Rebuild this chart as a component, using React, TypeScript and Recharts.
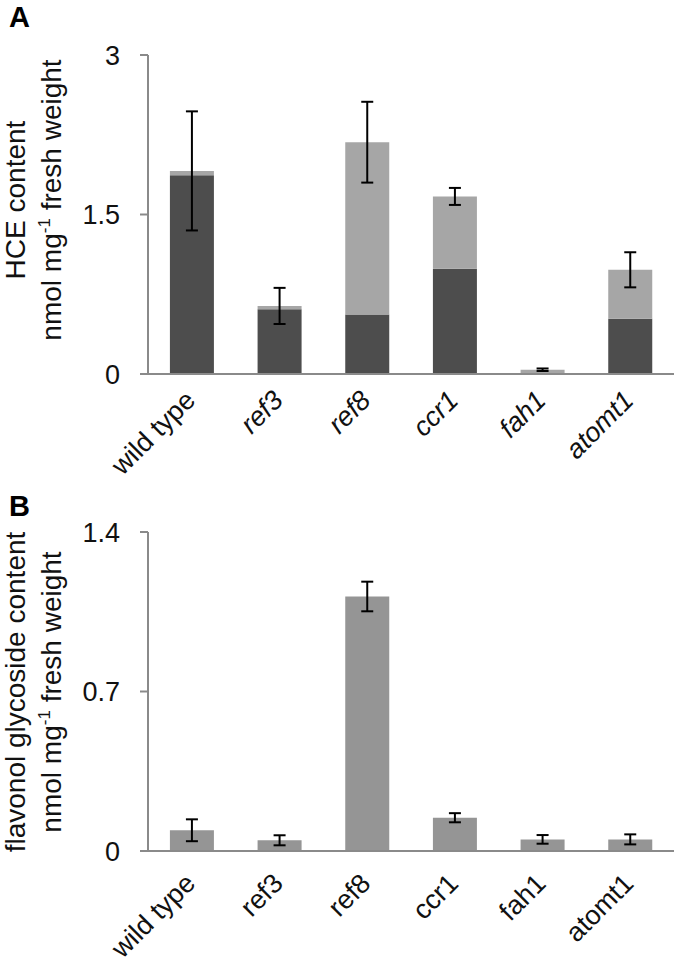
import React from 'react';
import { BarChart, Bar, XAxis, YAxis, ErrorBar, Text } from 'recharts';

const FONT = "'Liberation Sans', Arial, sans-serif";

const lines = ['wild type', 'ref3', 'ref8', 'ccr1', 'fah1', 'atomt1'];

// panel A: HCE content, dark and light portions stacked
const hceDark = [1.87, 0.61, 0.56, 0.99, 0, 0.52];
const hceLight = [0.04, 0.03, 1.62, 0.68, 0.04, 0.46];
const hceErr = [0.56, 0.17, 0.38, 0.08, 0.012, 0.165];
const hceTicks = [0, 1.5, 3];

// panel B: flavonol glycoside content
const flavonol = [0.091, 0.047, 1.117, 0.146, 0.051, 0.051];
const flavonolErr = [0.048, 0.022, 0.065, 0.02, 0.019, 0.022];
const flavonolTicks = [0, 0.7, 1.4];

const hceData = lines.map((name, i) => ({
  name,
  dark: hceDark[i],
  light: hceLight[i],
  total: hceDark[i] + hceLight[i],
  err: hceErr[i],
}));

const flavonolData = lines.map((name, i) => ({
  name,
  value: flavonol[i],
  err: flavonolErr[i],
}));

const axisStroke = '#8a8a8a';

function LineTick(props: any) {
  const { x, y, payload, italic, drop } = props;
  const name = payload.value;
  return (
    <Text
      x={x + 5}
      y={y + drop}
      angle={-45}
      textAnchor="end"
      verticalAnchor="end"
      fontSize={27}
      fontFamily={FONT}
      fontStyle={italic && name !== 'wild type' ? 'italic' : 'normal'}
      fill="#111"
    >
      {name}
    </Text>
  );
}

function ValueTick(props: any) {
  const { x, y, payload } = props;
  return (
    <text x={x - 18} y={y} dy="0.36em" textAnchor="end" fontSize={27} fontFamily={FONT} fill="#111">
      {String(payload.value)}
    </text>
  );
}

function AxisTitle(props: any) {
  const { first, cy, x1, x2 } = props;
  return (
    <g>
      <text
        transform={`translate(${x1},${cy}) rotate(-90)`}
        textAnchor="middle"
        fontFamily={FONT}
        fontSize={28}
        fill="#111"
      >
        {first}
      </text>
      <text
        transform={`translate(${x2},${cy}) rotate(-90)`}
        textAnchor="middle"
        fontFamily={FONT}
        fontSize={28}
        fill="#111"
      >
        nmol mg
        <tspan fontSize={17} dy={-11}>-1</tspan>
        <tspan dy={11}> fresh weight</tspan>
      </text>
    </g>
  );
}

export default function App() {
  return (
    <div style={{ position: 'absolute', top: 0, left: 0, width: 677, height: 964, background: '#fff' }}>
      <style>{'.recharts-surface { overflow: visible; }'}</style>
      <div style={{ position: 'absolute', left: 9, top: 2, fontFamily: FONT, fontWeight: 'bold', fontSize: 29, lineHeight: '30px' }}>A</div>
      <div style={{ position: 'absolute', left: 9, top: 491, fontFamily: FONT, fontWeight: 'bold', fontSize: 29, lineHeight: '30px' }}>B</div>

      <BarChart
        width={677}
        height={480}
        data={hceData}
        margin={{ top: 55, right: 3, bottom: 0, left: 88 }}
        barCategoryGap="25%"
      >
        <XAxis
          dataKey="name"
          interval={0}
          height={106}
          axisLine={{ stroke: axisStroke, strokeWidth: 2 }}
          tickLine={false}
          tickSize={0}
          tickMargin={0}
          tick={<LineTick italic drop={28} />}
        />
        <XAxis xAxisId="err" dataKey="name" hide />
        <YAxis
          domain={[0, 3]}
          ticks={hceTicks}
          width={60}
          axisLine={{ stroke: axisStroke, strokeWidth: 2 }}
          tickLine={{ stroke: axisStroke, strokeWidth: 2 }}
          tickSize={8}
          tickMargin={2}
          tick={<ValueTick />}
          label={<AxisTitle first="HCE content" cy={200} x1={25} x2={61} />}
        />
        <Bar dataKey="dark" stackId="hce" fill="#4d4d4d" isAnimationActive={false} />
        <Bar dataKey="light" stackId="hce" fill="#a6a6a6" isAnimationActive={false} />
        <Bar dataKey="total" xAxisId="err" fill="none" isAnimationActive={false}>
          <ErrorBar dataKey="err" width={6} stroke="#000" strokeWidth={2} direction="y" />
        </Bar>
      </BarChart>

      <BarChart
        width={677}
        height={484}
        data={flavonolData}
        margin={{ top: 52, right: 3, bottom: 0, left: 88 }}
        barCategoryGap="25%"
      >
        <XAxis
          dataKey="name"
          interval={0}
          height={113}
          axisLine={{ stroke: axisStroke, strokeWidth: 2 }}
          tickLine={false}
          tickSize={0}
          tickMargin={0}
          tick={<LineTick italic={false} drop={34} />}
        />
        <YAxis
          domain={[0, 1.4]}
          ticks={flavonolTicks}
          width={60}
          axisLine={{ stroke: axisStroke, strokeWidth: 2 }}
          tickLine={{ stroke: axisStroke, strokeWidth: 2 }}
          tickSize={8}
          tickMargin={2}
          tick={<ValueTick />}
          label={<AxisTitle first="flavonol glycoside content" cy={212} x1={25} x2={61} />}
        />
        <Bar dataKey="value" fill="#959595" isAnimationActive={false}>
          <ErrorBar dataKey="err" width={6} stroke="#000" strokeWidth={2} direction="y" />
        </Bar>
      </BarChart>
    </div>
  );
}
